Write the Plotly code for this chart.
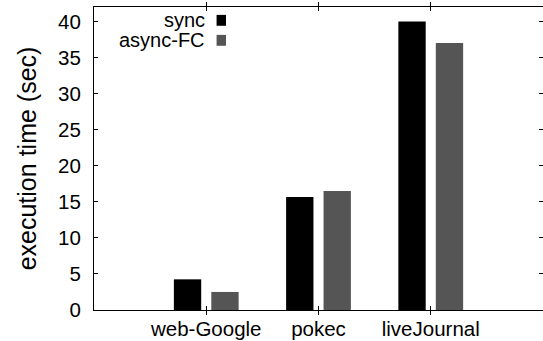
import plotly.graph_objects as go

# Execution time per graph dataset
datasets = ["web-Google", "pokec", "liveJournal"]
sync_times = [4.25, 15.65, 40.0]
async_fc_times = [2.5, 16.5, 37.0]
series_names = ["sync", "async-FC"]
series_colors = ["#000000", "#555555"]
y_ticks = [0, 5, 10, 15, 20, 25, 30, 35, 40]
y_range = [0, 42]

FONT = "Liberation Sans, Arial, Helvetica, sans-serif"

fig = go.Figure()
for name, vals, col in zip(series_names, [sync_times, async_fc_times], series_colors):
    fig.add_trace(go.Bar(
        x=datasets, y=vals, name=name,
        marker=dict(color=col, line=dict(width=0)),
        showlegend=False,
    ))

# empty trace so the right-hand tick axis gets rendered
fig.add_trace(go.Scatter(x=[], y=[], yaxis="y2", showlegend=False, hoverinfo="skip"))

# Key drawn as right-aligned labels followed by filled squares
key_rows = [(0.957, 0.938, 0.974), (0.890, 0.872, 0.908)]
for (ty, y0, y1), name, col in zip(key_rows, series_names, series_colors):
    fig.add_annotation(
        x=0.251, y=ty, xref="paper", yref="paper", text=name,
        showarrow=False, xanchor="right", yanchor="middle",
        font=dict(family=FONT, size=20, color="black"),
    )
    fig.add_shape(
        type="rect", xref="paper", yref="paper",
        x0=0.273, x1=0.294, y0=y0, y1=y1,
        fillcolor=col, line=dict(width=0),
    )

tick_font = dict(family=FONT, size=20.5, color="black")

fig.update_layout(
    width=543, height=341,
    margin=dict(l=94, r=0, t=7, b=31, autoexpand=False),
    paper_bgcolor="white", plot_bgcolor="white",
    barmode="group", bargap=0.333, bargroupgap=0.27,
    xaxis=dict(
        type="category", range=[-1, 3], automargin=False,
        showline=True, linecolor="black", linewidth=1, mirror="allticks",
        ticks="inside", ticklen=4, tickcolor="black", showgrid=False,
        zeroline=False, tickfont=tick_font,
    ),
    yaxis=dict(
        range=y_range, tickvals=y_ticks, automargin=False, ticklabelstandoff=8,
        showline=True, linecolor="black", linewidth=1, mirror=False,
        ticks="inside", ticklen=4, tickcolor="black", showgrid=False,
        zeroline=False, tickfont=tick_font,
        title=dict(text="execution time (sec)", standoff=14,
                   font=dict(family=FONT, size=25, color="black")),
    ),
    # right-hand tick marks only (the frame's right edge falls off the canvas)
    yaxis2=dict(
        overlaying="y", side="right", anchor="x", range=y_range,
        tickvals=y_ticks, showticklabels=False, showline=False,
        ticks="inside", ticklen=4, tickcolor="black", showgrid=False,
        zeroline=False, automargin=False,
    ),
)

fig.write_html("out.html")
